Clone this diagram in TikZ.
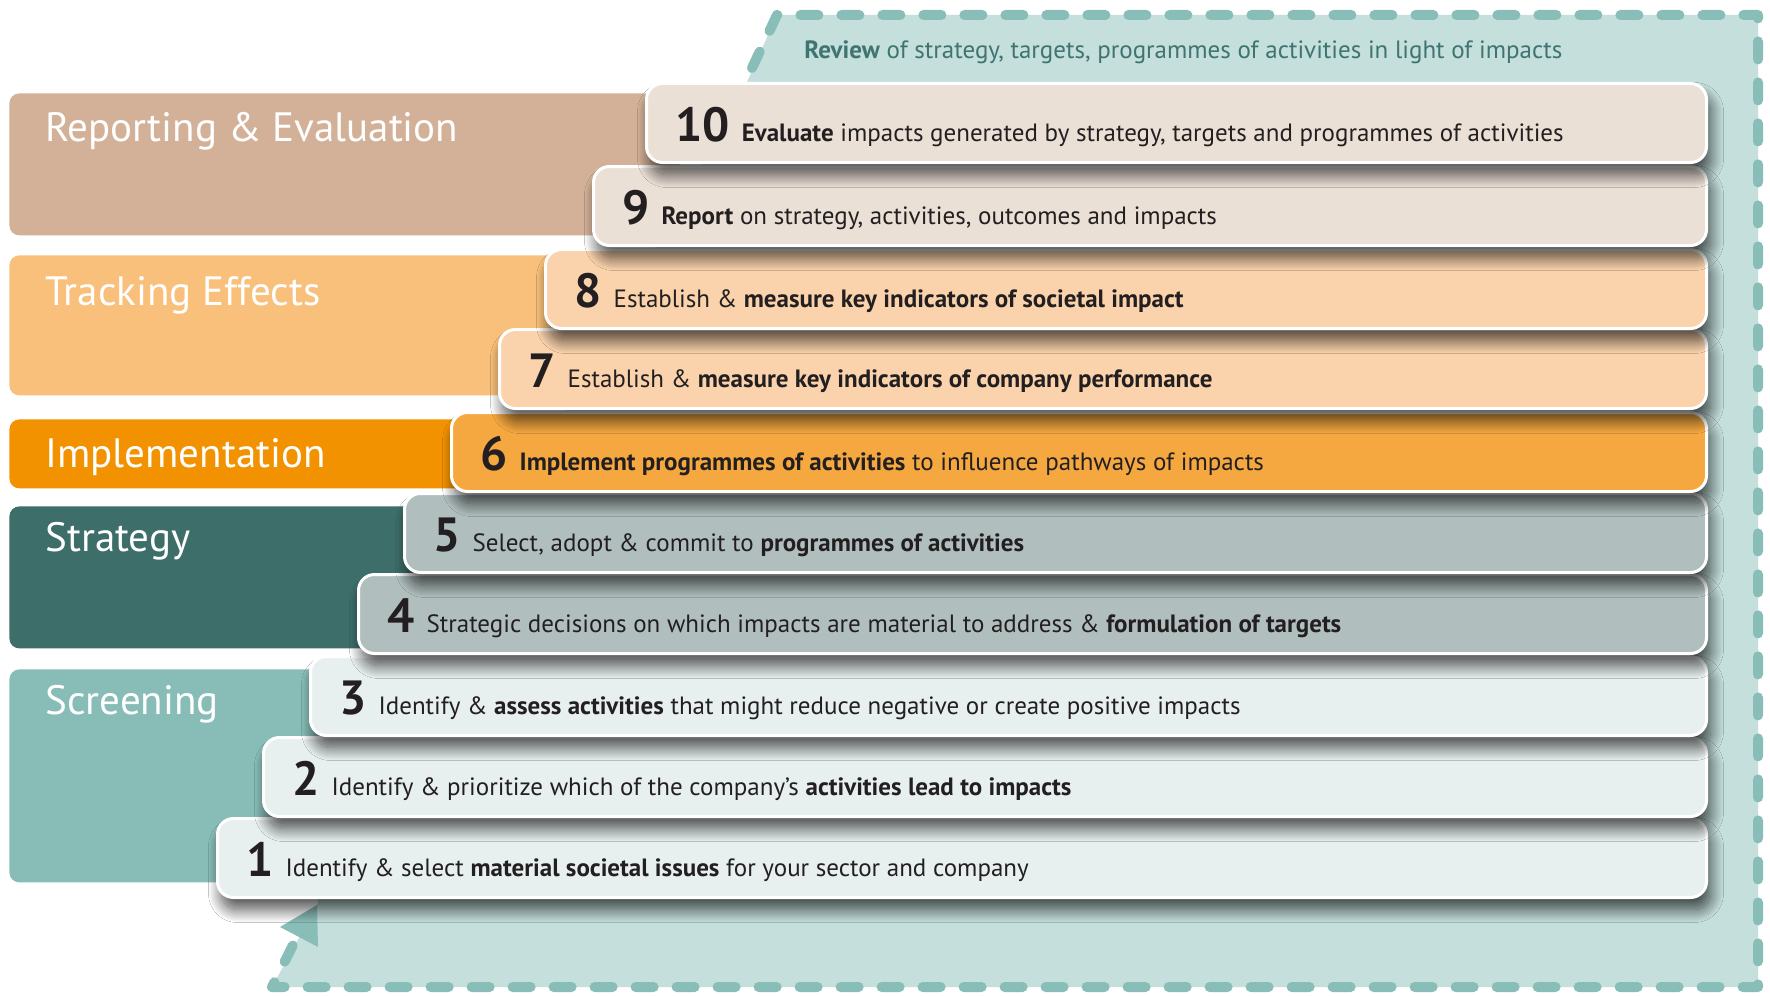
\documentclass[tikz,border=0pt]{standalone}
\usepackage{fontspec}
\setmainfont{PT Sans}
\usetikzlibrary{shadows.blur,positioning}

\definecolor{repcol}{HTML}{D2B198}
\definecolor{trackcol}{HTML}{F8C07A}
\definecolor{implcol}{HTML}{F39200}
\definecolor{stratcol}{HTML}{3D6E6A}
\definecolor{screencol}{HTML}{88BDB7}
\definecolor{repstep}{HTML}{EBE0D6}
\definecolor{trackstep}{HTML}{FAD3AC}
\definecolor{implstep}{HTML}{F6A840}
\definecolor{stratstep}{HTML}{B0BFBE}
\definecolor{scrstep}{HTML}{E7F0EF}
\definecolor{loopcol}{HTML}{89BDB8}
\definecolor{loopfill}{HTML}{C4DFDC}
\definecolor{reviewcol}{HTML}{3F7470}
\definecolor{txtcol}{HTML}{231F20}

\newcommand{\stepnum}[1]{{\fontsize{24}{24}\selectfont\bfseries #1}\hspace{6pt}}

\begin{document}
\begin{tikzpicture}[x=0.5pt,y=-0.5pt,
    catbox/.style={rounded corners=5pt, anchor=north west, inner sep=0pt},
    cattext/.style={text=white, font=\fontsize{20.5}{20.5}\selectfont, anchor=base west, inner sep=0pt},
    stepbox/.style={draw=white, line width=1.5pt, rounded corners=8pt, anchor=north west, inner sep=0pt,
        minimum height=39.5pt,
        blur shadow={shadow xshift=2pt, shadow yshift=-6pt, shadow blur radius=6.5pt, shadow blur steps=20, shadow opacity=70}},
    steptext/.style={text=txtcol, font=\fontsize{12.5}{14}\selectfont, anchor=base west, inner sep=0pt},
    loopline/.style={draw=loopcol, line width=5pt, line cap=round, line join=round, dash pattern=on 9pt off 11.5pt}]

    \useasboundingbox[fill=white] (0,0) rectangle (1770,995);

    \fill[loopfill] (272,987) -- (318,903) -- (318,860) -- (747,82) -- (777,15) -- (1758,15) -- (1758,987) -- cycle;
    \draw[loopline] (752,68) -- (777,15) -- (1758,15) -- (1758,987) -- (272,987) -- (297,937);
    \fill[loopcol] (317,905) -- (280,927) -- (318,947) -- cycle;

    \node[steptext, text=reviewcol] (review) at (804,59) {\textbf{Review} of strategy, targets, programmes of activities in light of impacts};

    \node[catbox, fill=repcol, minimum width=335.5pt, minimum height=71pt] (rep) at (9,93) {};
    \node[catbox, fill=trackcol, minimum width=290.5pt, minimum height=70pt] (track) at (9,255) {};
    \node[catbox, fill=implcol, minimum width=245.5pt, minimum height=34.5pt] (impl) at (9,419) {};
    \node[catbox, fill=stratcol, minimum width=220.5pt, minimum height=71pt] (strat) at (9,506) {};
    \node[catbox, fill=screencol, minimum width=170.5pt, minimum height=106.5pt] (screen) at (9,669) {};

    \node[cattext] (replab) at ([xshift=18pt,yshift=-24pt]rep.north west) {Reporting \& Evaluation};
    \node[cattext] (tracklab) at ([xshift=18pt,yshift=-25pt]track.north west) {Tracking Effects};
    \node[cattext] (impllab) at ([xshift=18pt,yshift=-24pt]impl.north west) {Implementation};
    \node[cattext] (stratlab) at ([xshift=18pt,yshift=-22.5pt]strat.north west) {Strategy};
    \node[cattext] (screenlab) at ([xshift=18pt,yshift=-22.5pt]screen.north west) {Screening};

    \node[stepbox, fill=scrstep, minimum width=744.5pt] (s1) at (216,817) {};
    \node[steptext] (t1) at ([xshift=15pt,yshift=-9pt]s1.west) {\stepnum{1}Identify \& select \textbf{material societal issues} for your sector and company};

    \node[stepbox, fill=scrstep, minimum width=721.5pt] (s2) at (262,736) {};
    \node[steptext] (t2) at ([xshift=15pt,yshift=-9pt]s2.west) {\stepnum{2}Identify \& prioritize which of the company’s \textbf{activities lead to impacts}};

    \node[stepbox, fill=scrstep, minimum width=698pt] (s3) at (309,655) {};
    \node[steptext] (t3) at ([xshift=15pt,yshift=-9pt]s3.west) {\stepnum{3}Identify \& \textbf{assess activities} that might reduce negative or create positive impacts};

    \node[stepbox, fill=stratstep, minimum width=674pt] (s4) at (357,573) {};
    \node[steptext] (t4) at ([xshift=15pt,yshift=-9pt]s4.west) {\stepnum{4}Strategic decisions on which impacts are material to address \& \textbf{formulation of targets}};

    \node[stepbox, fill=stratstep, minimum width=651pt] (s5) at (403,492) {};
    \node[steptext] (t5) at ([xshift=15pt,yshift=-9pt]s5.west) {\stepnum{5}Select, adopt \& commit to \textbf{programmes of activities}};

    \node[stepbox, fill=implstep, minimum width=627.5pt] (s6) at (450,411) {};
    \node[steptext] (t6) at ([xshift=15pt,yshift=-9pt]s6.west) {\stepnum{6}\textbf{Implement programmes of activities} to influence pathways of impacts};

    \node[stepbox, fill=trackstep, minimum width=603.5pt] (s7) at (498,328) {};
    \node[steptext] (t7) at ([xshift=15pt,yshift=-9pt]s7.west) {\stepnum{7}Establish \& \textbf{measure key indicators of company performance}};

    \node[stepbox, fill=trackstep, minimum width=580.5pt] (s8) at (544,248) {};
    \node[steptext] (t8) at ([xshift=15pt,yshift=-9pt]s8.west) {\stepnum{8}Establish \& \textbf{measure key indicators of societal impact}};

    \node[stepbox, fill=repstep, minimum width=556.5pt] (s9) at (592,165) {};
    \node[steptext] (t9) at ([xshift=15pt,yshift=-9pt]s9.west) {\stepnum{9}\textbf{Report} on strategy, activities, outcomes and impacts};

    \node[stepbox, fill=repstep, minimum width=530pt] (s10) at (645,82) {};
    \node[steptext] (t10) at ([xshift=15pt,yshift=-9pt]s10.west) {\stepnum{10}\textbf{Evaluate} impacts generated by strategy, targets and programmes of activities};
\end{tikzpicture}
\end{document}
